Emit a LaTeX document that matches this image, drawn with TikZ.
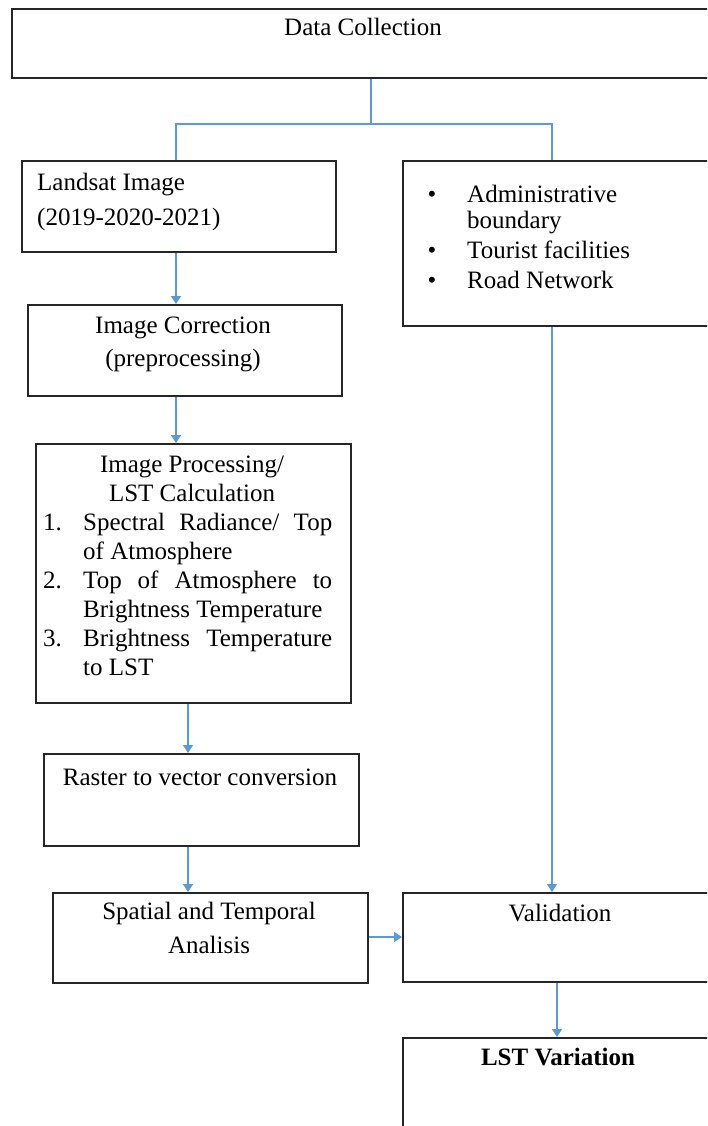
\documentclass[tikz,border=0pt]{standalone}
\usepackage{fontspec}
\setmainfont{Liberation Serif}
\usetikzlibrary{arrows.meta}
\definecolor{conn}{HTML}{5B9BD5}
\begin{document}
\begin{tikzpicture}[x=1pt,y=-1pt,
  box/.style={draw=black!85, line width=1.6pt, inner sep=0pt, anchor=north west},
  txt/.style={inner sep=0pt, anchor=base, font=\fontsize{25}{29}\selectfont},
  txtl/.style={txt, anchor=base west},
  link/.style={draw=conn, line width=1.2pt},
  arr/.style={link, line width=1.4pt, -{Triangle[width=10pt,length=8pt]}}]
\useasboundingbox (0,0) rectangle (707,1126);
\clip (0,0) rectangle (707,1126);
% boxes
\node[box, minimum width=704pt, minimum height=69pt] (dc) at (11,8) {};
\node[box, minimum width=314pt, minimum height=91pt] (li) at (21,160) {};
\node[box, minimum width=316pt, minimum height=165pt] (rb) at (402,160) {};
\node[box, minimum width=314pt, minimum height=91pt] (ic) at (27,304) {};
\node[box, minimum width=315pt, minimum height=259pt] (ip) at (35,443) {};
\node[box, minimum width=315pt, minimum height=92pt] (rv) at (43,753) {};
\node[box, minimum width=315pt, minimum height=90pt] (st) at (52,892) {};
\node[box, minimum width=316pt, minimum height=89pt] (va) at (402,892) {};
\node[box, minimum width=313pt, minimum height=110pt] (lv) at (402,1037) {};
% texts
\node[txt] (tdc) at (363,36) {Data Collection};
\node[txtl] (tli1) at (37,190) {Landsat Image};
\node[txtl] (tli2) at (37,225) {(2019-2020-2021)};
\node[txt] (tbu1) at (432,202) {\textbullet};
\node[txtl] (trb1) at (467,202) {Administrative};
\node[txtl] (trb2) at (467,228) {boundary};
\node[txt] (tbu2) at (432,258) {\textbullet};
\node[txtl] (trb3) at (467,258) {Tourist facilities};
\node[txt] (tbu3) at (432,288) {\textbullet};
\node[txtl] (trb4) at (467,288) {Road Network};
\node[txt] (tic1) at (183,333) {Image Correction};
\node[txt] (tic2) at (183,366) {(preprocessing)};
\node[txt] (tip1) at (192,472) {Image Processing/};
\node[txt] (tip2) at (192,501) {LST Calculation};
\node[txtl] (n1) at (43,530) {1.};
\node[txtl] (tip3) at (83,530) {\makebox[249pt][s]{Spectral Radiance/ Top}};
\node[txtl] (tip4) at (83,559) {of Atmosphere};
\node[txtl] (n2) at (43,588) {2.};
\node[txtl] (tip5) at (83,588) {\makebox[249pt][s]{Top of Atmosphere to}};
\node[txtl] (tip6) at (83,617) {Brightness Temperature};
\node[txtl] (n3) at (43,646) {3.};
\node[txtl] (tip7) at (83,646) {\makebox[249pt][s]{Brightness Temperature}};
\node[txtl] (tip8) at (83,675) {to LST};
\node[txt] (trv) at (200,785) {Raster to vector conversion};
\node[txt] (tst1) at (209,919) {Spatial and Temporal};
\node[txt] (tst2) at (209,953) {Analisis};
\node[txt] (tva) at (560,921) {Validation};
\node[txt, font=\fontsize{25}{29}\selectfont\bfseries] (tlv) at (558,1065) {LST Variation};
% connector coordinates
\coordinate (j) at (371,124);
\coordinate (jl) at (176,124);
\coordinate (jr) at (552,124);
\coordinate (cx) at (188,0);
\coordinate (cv) at (557,0);
\coordinate (cy) at (0,937);
% connectors
\draw[link] (dc.south -| j) -- (j);
\draw[link] (li.north -| jl) -- (jl) -- (jr) -- (rb.north -| jr);
\draw[arr] (li.south -| jl) -- (ic.north -| jl);
\draw[arr] (ic.south -| jl) -- (ip.north -| jl);
\draw[arr] (ip.south -| cx) -- (rv.north -| cx);
\draw[arr] (rv.south -| cx) -- (st.north -| cx);
\draw[arr] (rb.south -| jr) -- (va.north -| jr);
\draw[arr] (st.east |- cy) -- (va.west |- cy);
\draw[arr] (va.south -| cv) -- (lv.north -| cv);
\end{tikzpicture}
\end{document}
